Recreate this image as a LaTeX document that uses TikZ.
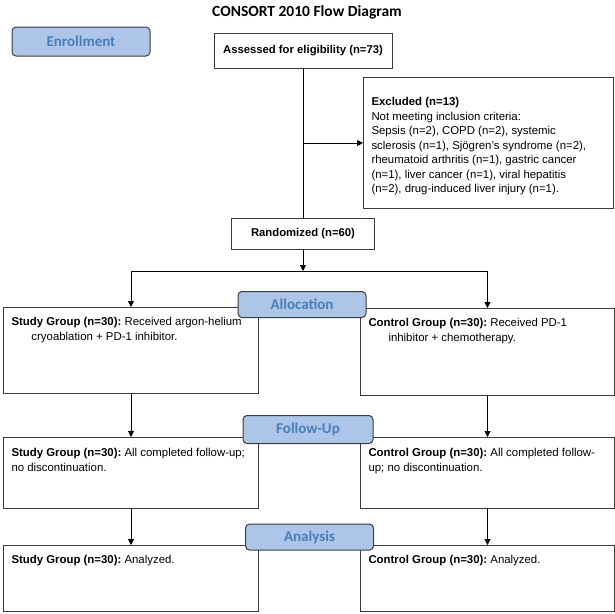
\documentclass[tikz,border=0pt]{standalone}
\usepackage{fontspec}
\setmainfont{Liberation Sans}
\newfontfamily\calibri{Carlito}
\usetikzlibrary{arrows.meta}

\definecolor{phasefill}{RGB}{172,197,232}
\definecolor{phasetext}{RGB}{74,126,187}
\definecolor{boxline}{RGB}{60,60,60}

% fixed-size text block, text at the top
\newcommand{\boxtext}[3]{\parbox[c][#2][t]{#1}{\frenchspacing\raggedright\strut #3}}

\tikzset{
  flowbox/.style={draw=boxline, line width=1pt, inner xsep=8pt, inner ysep=8pt,
    anchor=north west, font=\fontsize{11.4}{14.5}\selectfont},
  countbox/.style={draw=boxline, line width=1pt, font=\bfseries\fontsize{11.3}{13}\selectfont},
  phase/.style={draw=boxline, fill=phasefill, rounded corners=4pt, line width=1pt,
    minimum width=128pt, minimum height=28pt, text=phasetext,
    font=\calibri\bfseries\fontsize{15}{17}\selectfont},
  link/.style={line width=0.9pt, -{Triangle[length=6pt,width=6pt]}},
}

\begin{document}
\begin{tikzpicture}[x=1pt,y=-1pt]
  \useasboundingbox (0,0) rectangle (615,613);
  \node[font=\calibri\bfseries\fontsize{15.5}{17}\selectfont] (title) at (307,12) {CONSORT 2010 Flow Diagram};

  % enrollment
  \node[countbox, minimum width=178pt, minimum height=35pt] (assess) at (303,50.5) {Assessed for eligibility (n=73)};
  \node[flowbox, inner ysep=18pt] (excl) at (363,77) {\boxtext{234pt}{95pt}{%
    \textbf{Excluded (n=13)}\\
    Not meeting inclusion criteria:\\
    Sepsis (n=2), COPD (n=2), systemic\\
    sclerosis (n=1), Sjögren's syndrome (n=2),\\
    rheumatoid arthritis (n=1), gastric cancer\\
    (n=1), liver cancer (n=1), viral hepatitis\\
    (n=2), drug-induced liver injury (n=1).}};
  \node[countbox, minimum width=143pt, minimum height=31pt] (rand) at (303,233.5) {Randomized (n=60)};
  \coordinate (split) at (303,271);

  % allocation
  \node[flowbox] (salloc) at (3,307) {\boxtext{239pt}{70pt}{%
    \hangindent=20pt\hangafter=1
    \textbf{Study Group (n=30):} Received argon-helium\newline
    cryoablation + PD-1 inhibitor.}};
  \node[flowbox] (calloc) at (360,308) {\boxtext{238pt}{71pt}{%
    \hangindent=20pt\hangafter=1
    \textbf{Control Group (n=30):} Received PD-1\newline
    inhibitor + chemotherapy.}};

  % follow-up
  \node[flowbox, inner ysep=9pt] (sfollow) at (3,437) {\boxtext{239pt}{53pt}{%
    \textbf{Study Group (n=30):} All completed follow-up;\\
    no discontinuation.}};
  \node[flowbox, inner ysep=9pt] (cfollow) at (360,437) {\boxtext{238pt}{53pt}{%
    \textbf{Control Group (n=30):} All completed follow-\\
    up; no discontinuation.}};

  % analysis
  \node[flowbox] (sanal) at (3,545) {\boxtext{239pt}{50pt}{%
    \textbf{Study Group (n=30):} Analyzed.}};
  \node[flowbox] (canal) at (360,545) {\boxtext{238pt}{50pt}{%
    \textbf{Control Group (n=30):} Analyzed.}};

  % connectors
  \draw[line width=0.9pt] (assess.south) -- (rand.north);
  \draw[link] (assess.south |- excl.west) -- (excl.west);
  \draw[link] (rand.south) -- (split);
  \draw[line width=0.9pt] (split -| salloc.north) -- (split -| calloc.north);
  \draw[link] (split -| salloc.north) -- (salloc.north);
  \draw[link] (split -| calloc.north) -- (calloc.north);
  \draw[link] (salloc.south) -- (sfollow.north);
  \draw[link] (calloc.south) -- (cfollow.north);
  \draw[link] (sfollow.south) -- (sanal.north);
  \draw[link] (cfollow.south) -- (canal.north);

  % phase labels, on top of the boxes
  \node[phase, minimum width=138pt, minimum height=29pt] (enroll) at (81,41.5) {Enrollment};
  \node[phase, minimum height=26pt] (allocation) at (302,304.5) {Allocation};
  \node[phase, minimum width=130pt] (followup) at (308,429.5) {Follow-Up};
  \node[phase, minimum height=26pt] (analysis) at (309.5,537) {Analysis};
\end{tikzpicture}
\end{document}
